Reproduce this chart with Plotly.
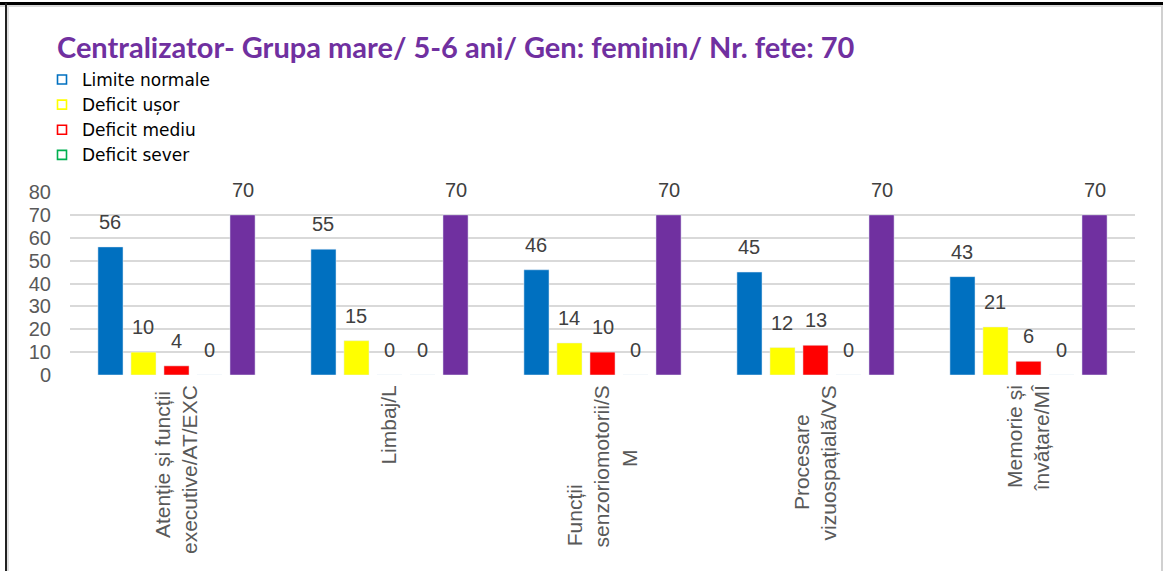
import plotly.graph_objects as go

NB = "\u00a0"
categories = [
    "Atenție și funcții" + NB + "<br>executive/AT/EXC",
    "Limbaj/L",
    "Funcții" + NB * 17 + "<br>senzoriomotorii/S<br>M" + NB * 11,
    "Procesare" + NB * 5 + "<br>vizuospațială/VS",
    "Memorie și<br>învățare/MÎ",
]
series_names = ["Limite normale", "Deficit ușor", "Deficit mediu", "Deficit sever", "Total"]
limite_normale = [56, 55, 46, 45, 43]
deficit_usor = [10, 15, 14, 12, 21]
deficit_mediu = [4, 0, 10, 13, 6]
deficit_sever = [0, 0, 0, 0, 0]
total = [70, 70, 70, 70, 70]
colors = ["#0070C0", "#FFFF00", "#FF0000", "#00B050", "#7030A0"]
y_ticks = [0, 10, 20, 30, 40, 50, 60, 70, 80]

all_series = [limite_normale, deficit_usor, deficit_mediu, deficit_sever, total]

W, H = 1163, 571
ML, MR, MT, MB = 70, 28, 192, 196
PW = W - ML - MR
PH = H - MT - MB
BARGAP = 0.225

def px_x(p):
    return (p - ML) / PW

def px_y(p):
    return (H - MB - p) / PH

fig = go.Figure()
for name, vals, col in zip(series_names, all_series, colors):
    fig.add_trace(go.Bar(x=categories, y=vals, name=name, marker_color=col,
                         showlegend=False, hoverinfo="y"))

# legend entries (hollow squares), only the 4 categories
for i, (name, col) in enumerate(zip(series_names[:4], colors[:4])):
    fig.add_trace(go.Scatter(x=[None], y=[None], mode="markers", name=name,
                             legendgroup=f"g{i}",
                             marker=dict(symbol="square-open", size=9, color=col,
                                         line=dict(width=1.6, color=col))))

# data labels
ncat = len(categories)
nser = len(all_series)
slot = PW / ncat * (1 - BARGAP) / nser
annotations = []
for si, vals in enumerate(all_series):
    for ci, v in enumerate(vals):
        annotations.append(dict(
            x=categories[ci], y=v, xref="x", yref="y", text=str(v), showarrow=False,
            xshift=(si - (nser - 1) / 2) * slot, yshift=25, yanchor="middle",
            font=dict(family="Liberation Sans, Arial", size=20, color="#404040")))

shapes = [
    dict(type="line", xref="paper", yref="paper", x0=px_x(0), x1=px_x(W), y0=px_y(3.5), y1=px_y(3.5),
         line=dict(color="#000000", width=3)),
    dict(type="line", xref="paper", yref="paper", x0=px_x(0), x1=px_x(W), y0=px_y(6), y1=px_y(6),
         line=dict(color="#D9D9D9", width=2)),
    dict(type="line", xref="paper", yref="paper", x0=px_x(6), x1=px_x(6), y0=px_y(3), y1=px_y(H),
         line=dict(color="#222222", width=2)),
    dict(type="line", xref="paper", yref="paper", x0=px_x(8), x1=px_x(8), y0=px_y(6), y1=px_y(H),
         line=dict(color="#E0E0E0", width=2)),
    dict(type="line", xref="paper", yref="paper", x0=px_x(1162), x1=px_x(1162), y0=px_y(6), y1=px_y(H),
         line=dict(color="#D0D0D0", width=2)),
]

fig.update_layout(
    width=W, height=H,
    margin=dict(l=ML, r=MR, t=MT, b=MB, autoexpand=False),
    paper_bgcolor="white", plot_bgcolor="white",
    barmode="group", bargap=BARGAP, bargroupgap=0.24,
    title=dict(text="<b>Centralizator- Grupa mare/ 5-6 ani/ Gen: feminin/ Nr. fete: 70</b>",
               xref="container", yref="container", x=57 / W, xanchor="left",
               y=1 - 48 / H, yanchor="middle",
               font=dict(family="Lato", size=29, color="#7030A0")),
    legend=dict(x=px_x(42), y=px_y(62), xanchor="left", yanchor="top",
                font=dict(family="DejaVu Sans", size=17, color="#000000"),
                tracegroupgap=0, bgcolor="rgba(0,0,0,0)", itemclick=False),
    xaxis=dict(tickangle=-90, tickfont=dict(family="Liberation Sans, Arial", size=21, color="#595959"),
               showgrid=False, showline=False, ticks="", fixedrange=True, ticklabelstandoff=5),
    yaxis=dict(range=[0, 80], tickvals=y_ticks, showgrid=True, gridcolor="#D9D9D9", gridwidth=2,
               zeroline=False, showline=False, ticks="outside", ticklen=14,
               tickcolor="rgba(0,0,0,0)", fixedrange=True,
               tickfont=dict(family="Liberation Sans, Arial", size=20, color="#595959")),
    annotations=annotations,
    shapes=shapes,
    showlegend=True,
)

fig.write_html("out.html", config={"displayModeBar": False},
               post_script="document.body.style.margin='0';document.body.style.padding='0';")
